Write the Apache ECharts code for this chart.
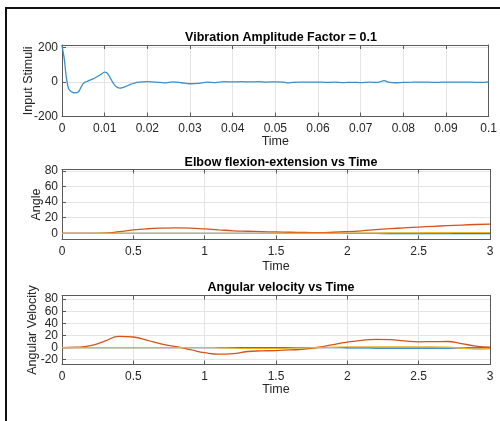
<!DOCTYPE html>
<html><head><meta charset="utf-8">
<script src="https://cdn.jsdelivr.net/npm/echarts@6/dist/echarts.min.js"></script>
<style>html,body{margin:0;padding:0;background:#fff}#c{width:500px;height:421px}</style>
</head><body><div id="c"></div>
<script>
// ---------- data ----------
const titles = ['Vibration Amplitude Factor = 0.1', 'Elbow flexion-extension vs Time', 'Angular velocity vs Time'];
const yNames = ['Input Stimuli', 'Angle', 'Angular Velocity'];
const xName = 'Time';

const stimTime = [0,0.0005,0.001,0.0015,0.002,0.0025,0.003,0.0035,0.004,0.0045,0.005,0.0055,0.006,0.007,0.008,0.009,0.01,0.0105,0.011,0.0115,0.012,0.0125,0.013,0.0135,0.014,0.015,0.016,0.017,0.018,0.019,0.02,0.022,0.024,0.026,0.028,0.03,0.032,0.034,0.036,0.038,0.04,0.042,0.044,0.046,0.048,0.05,0.052,0.053,0.054,0.056,0.058,0.06,0.062,0.064,0.066,0.068,0.07,0.072,0.074,0.0755,0.0765,0.078,0.08,0.082,0.084,0.086,0.088,0.09,0.092,0.094,0.096,0.098,0.1];
const stimValue = [212,140,30,-35,-52,-60,-63,-62,-52,-28,-8,0,5,16,28,42,58,54,38,16,-6,-22,-31,-35,-34,-25,-14,-6,-1,1,2,0,-5,1,-4,-10,-8,-1,-3,2,1,2,1,2,0,1,-1,-5,-2,0,-1,0,-2,-1,-3,-2,-3,-1,-2,8,0,-4,-2,-1,0,-1,-2,0,-1,0,-1,-2,1];

const jointTime = [0,0.1,0.2,0.3,0.4,0.5,0.6,0.7,0.8,0.9,1.0,1.1,1.2,1.3,1.4,1.5,1.6,1.7,1.8,1.9,2.0,2.1,2.2,2.3,2.4,2.5,2.6,2.7,2.8,2.9,3.0];
const angleBlue   = [0,0,0,0,0,0,0,0,0,0,0,0,0,0,0,0,0,0,0,0,0,-0.1,-0.2,-0.3,-0.3,-0.3,-0.3,-0.3,-0.3,-0.3,-0.3];
const angleOrange = [0,0,0,0.3,2,4.3,5.8,6.6,6.9,6.6,5.6,4.4,3.2,2.6,2.1,1.7,1.3,1.0,0.9,1.3,2.1,3.2,4.6,5.9,7.0,8.0,8.9,9.8,10.6,11.3,11.8];
const angleYellow = [0,0,0,0,0,0,0,0,0,0,0,0,0,0,0,0,0,0,0,0,0.1,0.2,0.3,0.4,0.5,0.6,0.7,0.7,0.8,0.8,0.8];
const velBlue     = [0,0,0,0,0,0,0,0,0,0,0,0,0,0,0,0,0,0,0,0,-0.3,-0.5,-0.8,-1,-1,-1,-1,-1,-0.8,-0.5,0];
const velOrange   = [0,0.5,3,10.5,18.5,17.4,12,5.5,1.5,-3.5,-8.5,-11,-10,-6.5,-5.5,-5,-4,-2.5,0.5,5,9,12,13.5,13,11,9.5,9.8,10,6.5,2.5,0.5];
const velYellow   = [0,0,0,0,0,0,0,0,0,0,0,-0.5,-1,-1.5,-1.5,-1.5,-1,-0.5,0,0.5,1,1,1,1,1,1,1,0.5,-1,-2.5,-2];

// ---------- styling ----------
const FONT = 'Liberation Sans, Arial, sans-serif';
const AX = '#5a5a5a';
const GRIDC = '#e4e4e4';
const BLUE = '#0072BD', ORANGE = '#D95319', YELLOW = '#EDB120';
const grids = [
  {left: 62, top: 45, width: 428, height: 71.5},
  {left: 62, top: 169.5, width: 428, height: 70},
  {left: 62, top: 295.5, width: 428, height: 69}
];
const xRanges = [[0, 0.1, 0.01], [0, 3, 0.5], [0, 3, 0.5]];
const yRanges = [[-200, 215], [-8, 82], [-28, 86]];
const ySplit = [null, 4, 5];
const yStep = [200, 20, 20];
const xNameGap = [19, 21, 19];
const yNameGap = [27, 19, 23];
const titleTop = [26, 151, 276];

const xAxis = [], yAxis = [], title = [];
grids.forEach((g, i) => {
  title.push({text: titles[i], left: g.left + g.width / 2, top: titleTop[i], textAlign: 'center',
    textStyle: {fontFamily: FONT, fontSize: 12.5, fontWeight: 'bold', color: '#000'}});
  const xr = xRanges[i];
  xAxis.push({type: 'value', gridIndex: i, min: xr[0], max: xr[1], interval: xr[2], position: 'bottom',
    name: xName, nameLocation: 'middle', nameGap: xNameGap[i], nameMoveOverlap: false,
    nameTextStyle: {fontFamily: FONT, fontSize: 12.5, color: '#262626'},
    axisLine: {show: true, onZero: false, lineStyle: {color: AX, width: 1}},
    axisTick: {show: true, inside: true, length: 4, lineStyle: {color: AX}},
    axisLabel: {fontFamily: FONT, fontSize: 12, color: '#262626', margin: 6},
    splitLine: {show: true, lineStyle: {color: GRIDC, width: 1}}});
  xAxis.push({type: 'value', gridIndex: i, min: xr[0], max: xr[1], interval: xr[2], position: 'top',
    axisLine: {show: true, onZero: false, lineStyle: {color: AX, width: 1}},
    axisTick: {show: true, inside: true, length: 4, lineStyle: {color: AX}},
    axisLabel: {show: false}, splitLine: {show: false}});
  const yr = yRanges[i];
  const step = yStep[i];
  const yBase = {type: 'value', gridIndex: i, min: yr[0], max: yr[1]};
  if (ySplit[i] === null) yBase.interval = step; else yBase.splitNumber = ySplit[i];
  yAxis.push(Object.assign({}, yBase, {position: 'left',
    name: yNames[i], nameLocation: 'middle', nameGap: yNameGap[i], nameRotate: 90, nameMoveOverlap: false,
    nameTextStyle: {fontFamily: FONT, fontSize: 12.5, color: '#262626'},
    axisLine: {show: true, onZero: false, lineStyle: {color: AX, width: 1}},
    axisTick: {show: true, inside: true, length: 4, lineStyle: {color: AX}},
    axisLabel: {fontFamily: FONT, fontSize: 12, color: '#262626', margin: 4,
      formatter: v => (Math.abs(v % step) < 1e-9 ? String(v) : '')},
    splitLine: {show: true, lineStyle: {color: GRIDC, width: 1}}}));
  yAxis.push(Object.assign({}, yBase, {position: 'right',
    axisLine: {show: true, onZero: false, lineStyle: {color: AX, width: 1}},
    axisTick: {show: false}, axisLabel: {show: false}, splitLine: {show: false}}));
});

function pairs(t, v) { return t.map((x, k) => [x, v[k]]); }
function line(i, data, color, smooth) {
  return {type: 'line', xAxisIndex: 2 * i, yAxisIndex: 2 * i, data: data, showSymbol: false,
    smooth: smooth, lineStyle: {color: color, width: 1.3}, itemStyle: {color: color}, silent: true, animation: false};
}
const series = [
  line(0, pairs(stimTime, stimValue), '#3a8fcc', 0.3),
  line(1, pairs(jointTime, angleBlue), BLUE, true),
  line(1, pairs(jointTime, angleOrange), ORANGE, true),
  line(1, pairs(jointTime, angleYellow), YELLOW, true),
  line(2, pairs(jointTime, velBlue), BLUE, true),
  line(2, pairs(jointTime, velOrange), ORANGE, true),
  line(2, pairs(jointTime, velYellow), YELLOW, true)
];

const chart = echarts.init(document.getElementById('c'), null, {renderer: 'canvas'});
chart.setOption({
  animation: false,
  backgroundColor: '#fff',
  title: title,
  grid: grids.map(g => Object.assign({containLabel: false}, g)),
  xAxis: xAxis, yAxis: yAxis, series: series,
  graphic: [{type: 'rect', shape: {x: 6, y: 8, width: 700, height: 700},
    style: {fill: 'none', stroke: '#111', lineWidth: 2}, silent: true}]
});
</script></body></html>
